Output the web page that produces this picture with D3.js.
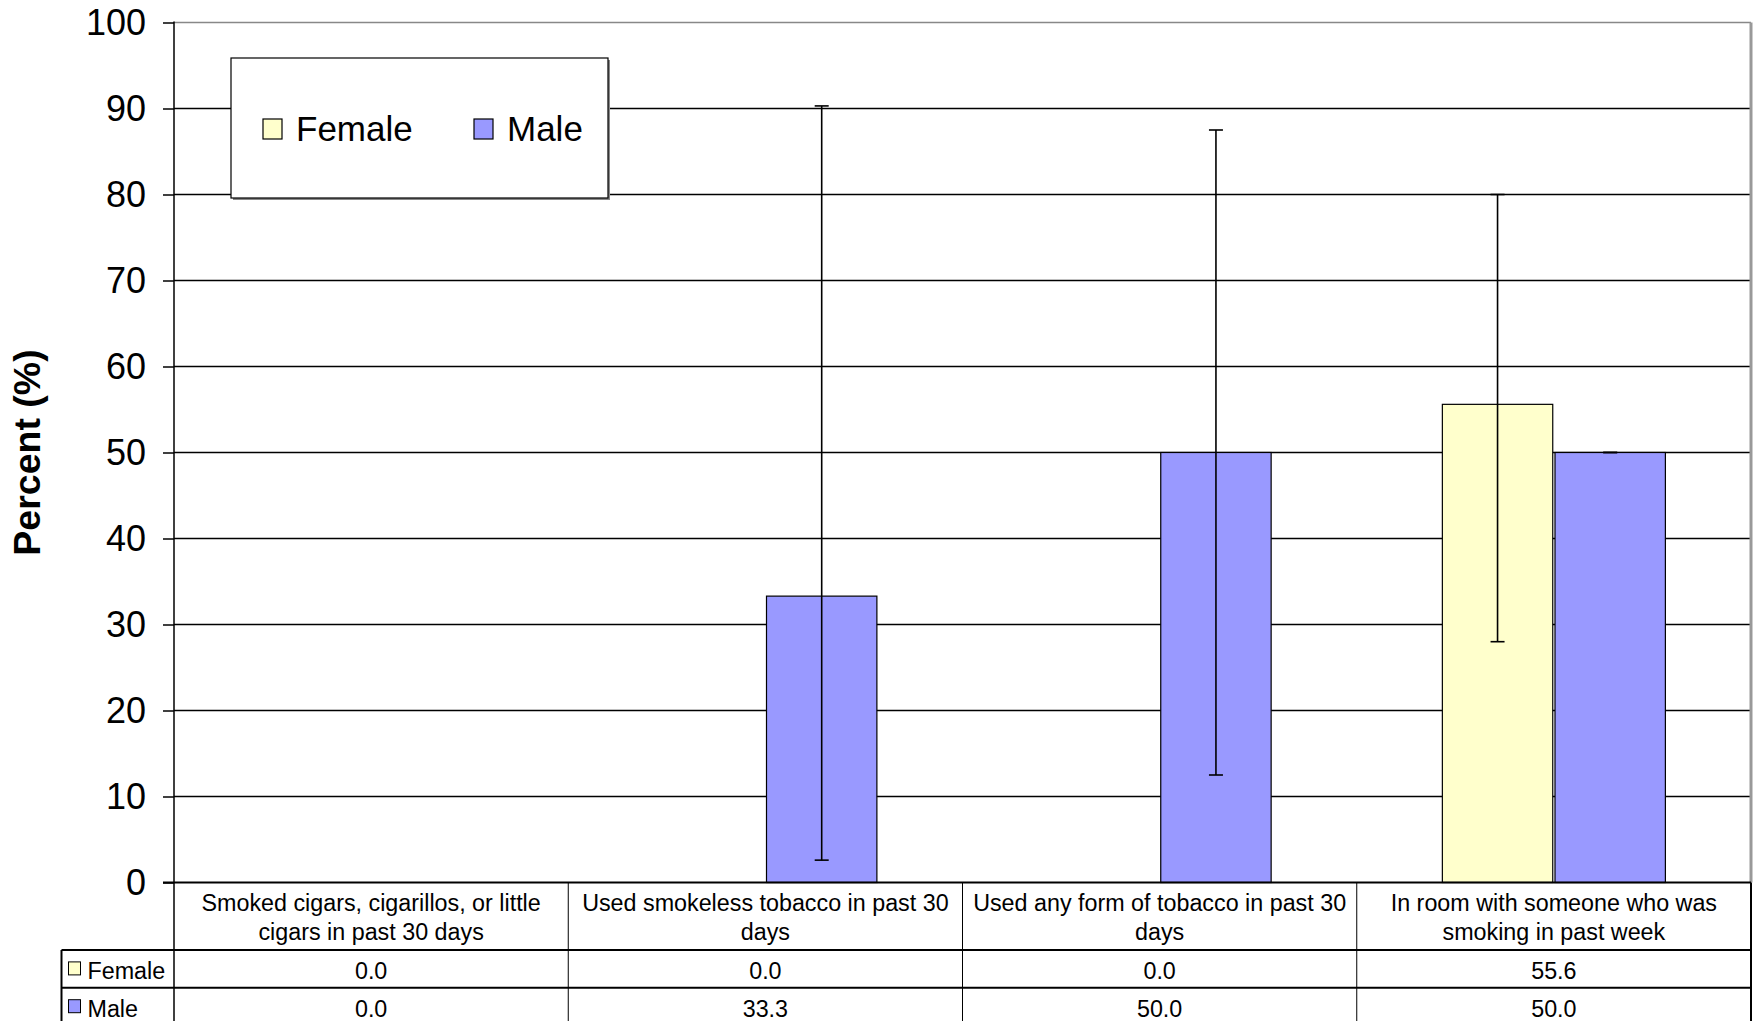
<!DOCTYPE html>
<html><head><meta charset="utf-8">
<script src="https://cdn.jsdelivr.net/npm/d3@7"></script>
<style>
html,body{margin:0;padding:0;background:#fff;}
svg{display:block;font-family:"Liberation Sans",Arial,sans-serif;}
</style></head>
<body>
<svg id="chart" width="1756" height="1021"></svg>
<script>
// ---- data ----
const categories = [
  ["Smoked cigars, cigarillos, or little", "cigars in past 30 days"],
  ["Used smokeless tobacco in past 30", "days"],
  ["Used any form of tobacco in past 30", "days"],
  ["In room with someone who was", "smoking in past week"]
];
const seriesNames = ["Female", "Male"];
const femaleValues = [0.0, 0.0, 0.0, 55.6];
const maleValues = [0.0, 33.3, 50.0, 50.0];
// error bars [low, high]; null = none
const femaleErr = [null, null, null, [28.0, 80.0]];
const maleErr = [null, [2.6, 90.3], [12.5, 87.5], [50.0, 50.0]];
const yTicks = [0, 10, 20, 30, 40, 50, 60, 70, 80, 90, 100];
const seriesColors = ["#FFFFCC", "#9999FF"];

// ---- layout ----
const svg = d3.select("#chart");
const L = 174, R = 1751, T = 22.5, B = 882.5;
const tableLeft = 61.5;
const rowH1 = 67.5, rowH = 37.8;

const x0 = d3.scaleBand().domain(d3.range(categories.length)).range([L, R]).paddingInner(0).paddingOuter(0);
const x1 = d3.scaleBand().domain(seriesNames).range([0, x0.bandwidth()]).paddingInner(0.02).paddingOuter(0.76);
const y = d3.scaleLinear().domain([0, 100]).range([B, T]);

const values = [femaleValues, maleValues];
const errs = [femaleErr, maleErr];

// gridlines
svg.append("g").selectAll("line").data(yTicks.filter(t => t > 0)).join("line")
  .attr("x1", L).attr("x2", R)
  .attr("y1", d => y(d)).attr("y2", d => y(d))
  .attr("stroke", d => d === 100 ? "#888" : "#000").attr("stroke-width", 1.5);

// right border
svg.append("line").attr("x1", R).attr("x2", R).attr("y1", T).attr("y2", B)
  .attr("stroke", "#999").attr("stroke-width", 3);

// bars
seriesNames.forEach((s, si) => {
  const g = svg.append("g");
  values[si].forEach((v, i) => {
    if (v <= 0) return;
    g.append("rect")
      .attr("x", x0(i) + x1(s)).attr("width", x1.bandwidth())
      .attr("y", y(v)).attr("height", y(0) - y(v))
      .attr("fill", seriesColors[si]).attr("stroke", "#000").attr("stroke-width", 1.2);
  });
});

// error bars
seriesNames.forEach((s, si) => {
  const g = svg.append("g").attr("stroke", "#000").attr("stroke-width", 1.6);
  errs[si].forEach((e, i) => {
    if (!e) return;
    const cx = x0(i) + x1(s) + x1.bandwidth() / 2;
    g.append("line").attr("x1", cx).attr("x2", cx).attr("y1", y(e[0])).attr("y2", y(e[1]));
    [e[0], e[1]].forEach(v => {
      g.append("line").attr("x1", cx - 7).attr("x2", cx + 7).attr("y1", y(v)).attr("y2", y(v));
    });
  });
});

// y axis
const yAxis = d3.axisLeft(y).tickValues(yTicks).tickSize(11).tickPadding(17).tickFormat(d3.format("d"));
const ag = svg.append("g").attr("transform", `translate(${L},0)`).call(yAxis);
ag.select(".domain").remove();
ag.selectAll(".tick line").attr("stroke", "#000").attr("stroke-width", 1.5);
ag.selectAll(".tick text").attr("font-size", 36).attr("fill", "#000")
  .attr("font-family", "'Liberation Sans', Arial, sans-serif");
svg.append("line").attr("x1", L).attr("x2", L).attr("y1", T - 1).attr("y2", B + rowH1 + 2 * rowH + 10)
  .attr("stroke", "#000").attr("stroke-width", 1.5);

// y title
svg.append("text").attr("transform", `translate(40,${(T + B) / 2}) rotate(-90)`)
  .attr("text-anchor", "middle").attr("font-size", 37.5).attr("font-weight", "bold")
  .text("Percent (%)");

// data table
const tg = svg.append("g");
const tBottom = B + rowH1 + 2 * rowH + 10;
// horizontal lines
tg.append("line").attr("x1", L - 11).attr("x2", R).attr("y1", B).attr("y2", B).attr("stroke", "#000").attr("stroke-width", 2);
tg.append("line").attr("x1", tableLeft).attr("x2", R).attr("y1", B + rowH1).attr("y2", B + rowH1).attr("stroke", "#000").attr("stroke-width", 2);
tg.append("line").attr("x1", tableLeft).attr("x2", R).attr("y1", B + rowH1 + rowH).attr("y2", B + rowH1 + rowH).attr("stroke", "#000").attr("stroke-width", 2);
// vertical lines
tg.append("line").attr("x1", tableLeft).attr("x2", tableLeft).attr("y1", B + rowH1).attr("y2", tBottom).attr("stroke", "#000").attr("stroke-width", 2);
d3.range(1, categories.length).forEach(i => {
  tg.append("line").attr("x1", x0(i)).attr("x2", x0(i)).attr("y1", B).attr("y2", tBottom).attr("stroke", "#000").attr("stroke-width", 1);
});
tg.append("line").attr("x1", R).attr("x2", R).attr("y1", B).attr("y2", tBottom).attr("stroke", "#000").attr("stroke-width", 2);

// header text
const fs = 23.3;
categories.forEach((lines, i) => {
  const t = tg.append("text").attr("text-anchor", "middle").attr("font-size", fs)
    .attr("x", x0(i) + x0.bandwidth() / 2);
  lines.forEach((ln, k) => {
    t.append("tspan").attr("x", x0(i) + x0.bandwidth() / 2).attr("y", B + 28 + k * 29).text(ln);
  });
});
// rows
seriesNames.forEach((s, si) => {
  const ry = B + rowH1 + si * rowH + rowH / 2 + 10;
  tg.append("rect").attr("x", tableLeft + 7).attr("y", ry - 17).attr("width", 12).attr("height", 13)
    .attr("fill", seriesColors[si]).attr("stroke", "#000").attr("stroke-width", 1);
  tg.append("text").attr("x", tableLeft + 26).attr("y", ry).attr("font-size", fs).text(s);
  values[si].forEach((v, i) => {
    tg.append("text").attr("text-anchor", "middle").attr("font-size", fs)
      .attr("x", x0(i) + x0.bandwidth() / 2).attr("y", ry).text(d3.format(".1f")(v));
  });
});

// legend
const lg = svg.append("g");
lg.append("rect").attr("x", 233).attr("y", 60).attr("width", 377).attr("height", 140).attr("fill", "#888");
lg.append("rect").attr("x", 231).attr("y", 58).attr("width", 377).attr("height", 140)
  .attr("fill", "#fff").attr("stroke", "#000").attr("stroke-width", 1.2);
const legX = [263, 474];
seriesNames.forEach((s, si) => {
  lg.append("rect").attr("x", legX[si]).attr("y", 119).attr("width", 19).attr("height", 20)
    .attr("fill", seriesColors[si]).attr("stroke", "#000").attr("stroke-width", 1.2);
  lg.append("text").attr("x", legX[si] + 33).attr("y", 141).attr("font-size", 35).text(s);
});
</script>
</body></html>
